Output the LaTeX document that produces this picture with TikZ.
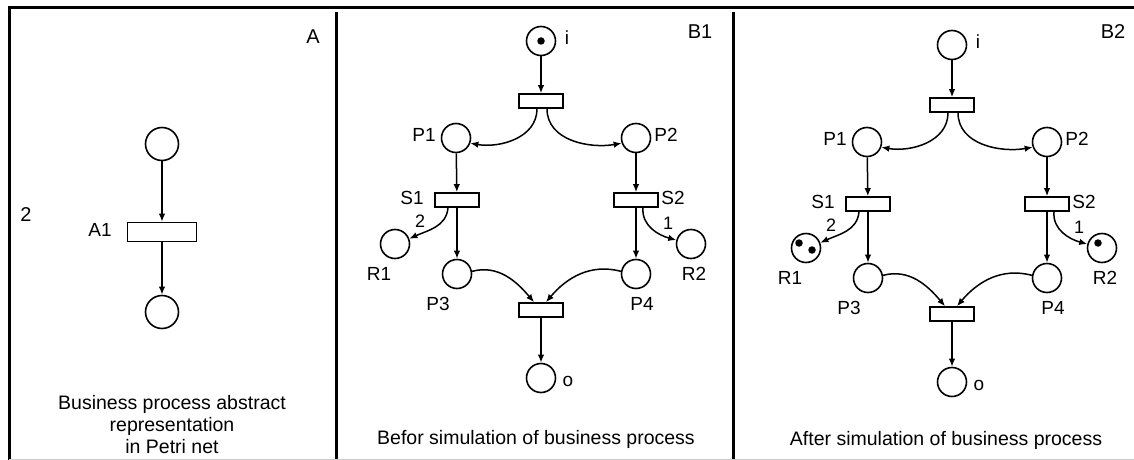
\documentclass[tikz,border=0pt]{standalone}
\usepackage{fontspec}
\setmainfont{Liberation Sans}
\usetikzlibrary{arrows.meta}
\newcommand\bnet[1]{%
  \node[place] (#1i) at (541,41) {};
  \node[trans] (#1t0) at (541,101) {};
  \node[place] (#1p1) at (456,138) {};
  \node[place] (#1p2) at (636,138) {};
  \node[trans] (#1s1) at (457,200) {};
  \node[trans] (#1s2) at (636,200) {};
  \node[place] (#1r1) at (395,244) {};
  \node[place] (#1r2) at (691,244) {};
  \node[place] (#1p3) at (457,274) {};
  \node[place] (#1p4) at (636,274) {};
  \node[trans] (#1t1) at (541,310) {};
  \node[place] (#1o) at (541,378) {};
  \node[lbl] (#1Li) at (567,38) {i};
  \node[lbl] (#1Lp1) at (424,135) {P1};
  \node[lbl] (#1Lp2) at (666,135) {P2};
  \node[lbl] (#1Ls1) at (412,198) {S1};
  \node[lbl] (#1Ls2) at (673,198) {S2};
  \node[num] (#1Ln2) at (420,221) {2};
  \node[num] (#1Ln1) at (668,223) {1};
  \node[lbl] (#1Lr1) at (379,274) {R1};
  \node[lbl] (#1Lr2) at (694,274) {R2};
  \node[lbl] (#1Lp3) at (438,304) {P3};
  \node[lbl] (#1Lp4) at (642,304) {P4};
  \node[lbl] (#1Lo) at (568,381) {o};
  \draw[flow] (#1i) -- (#1t0);
  \draw[flow] ([xshift=-4pt]#1t0.south) to[out=-90,in=-10] (#1p1.-20);
  \draw[flow] ([xshift=6pt]#1t0.south) to[out=-90,in=190] (#1p2.200);
  \draw[flow] (#1p1) -- (#1s1);
  \draw[flow] (#1p2) -- (#1s2);
  \draw[flow] ([xshift=-9pt]#1s1.south) to[out=-95,in=25] (#1r1.20);
  \draw[flow] ([xshift=7pt]#1s2.south) to[out=-95,in=165] (#1r2.165);
  \draw[flow] (#1s1) -- (#1p3);
  \draw[flow] (#1s2) -- (#1p4);
  \draw[flow] (#1p3.10) to[out=15,in=130] ([xshift=-7pt]#1t1.north);
  \draw[flow] (#1p4.170) to[out=165,in=50] ([xshift=5pt]#1t1.north);
  \draw[flow] (#1t1) -- (#1o);
}
\begin{document}
\begin{tikzpicture}[x=1pt,y=-1pt,
  place/.style={circle,draw,line width=1.6pt,minimum size=29pt,inner sep=0pt},
  bigplace/.style={place,minimum size=33pt},
  trans/.style={rectangle,draw,line width=1.6pt,minimum width=44pt,minimum height=14pt,inner sep=0pt},
  bigtrans/.style={trans,minimum width=69pt,minimum height=19pt},
  flow/.style={-{Latex[length=8pt,width=6.5pt]},line width=1.5pt},
  lbl/.style={font=\fontsize{19}{22}\selectfont,inner sep=0pt},
  num/.style={font=\fontsize{18}{21}\selectfont,inner sep=0pt},
  panellbl/.style={font=\fontsize{20}{24}\selectfont,inner sep=0pt},
  captext/.style={font=\fontsize{19.5}{22}\selectfont,inner sep=0pt,align=center},
  token/.style={circle,fill,inner sep=0pt,minimum size=7.5pt},
  frameline/.style={line width=3pt}]
\useasboundingbox (0,0) rectangle (1134,460);
% frame
\draw[frameline] (8,8) -- (1134,8);
\draw[frameline] (9,8) -- (9,460);
\draw[frameline] (336,12) -- (336,460);
\draw[frameline] (733,12) -- (733,460);
\draw[black!20,line width=1pt] (9,459) -- (1134,459);
% panel A
\node[panellbl] (LA) at (313,37) {A};
\node[panellbl] (L2) at (26,215) {2};
\node[bigplace] (Ap1) at (162,144) {};
\node[bigtrans] (At1) at (162,232) {};
\node[bigplace] (Ap2) at (162,312) {};
\node[lbl] (LA1) at (100,230) {A1};
\draw[flow] (Ap1) -- (At1);
\draw[flow] (At1) -- (Ap2);
\node[captext] (capA) at (172,425) {Business process abstract\\representation\\in Petri net};
% panel B1
\bnet{X}
\node[panellbl] (LB1) at (700,32) {B1};
\node[token] (tokX) at (Xi.center) {};
\node[captext] (capB1) at (536,439) {Befor simulation of business process};
% panel B2
\begin{scope}[shift={(411,4)}]
\bnet{Y}
\end{scope}
\node[panellbl] (LB2) at (1113,32) {B2};
\node[token] (tokY1) at ([xshift=-7pt,yshift=5pt]Yr1.center) {};
\node[token] (tokY2) at ([xshift=6pt,yshift=-2pt]Yr1.center) {};
\node[token] (tokY3) at ([xshift=-4pt,yshift=5pt]Yr2.center) {};
\node[captext] (capB2) at (946,440) {After simulation of business process};
\end{tikzpicture}
\end{document}
